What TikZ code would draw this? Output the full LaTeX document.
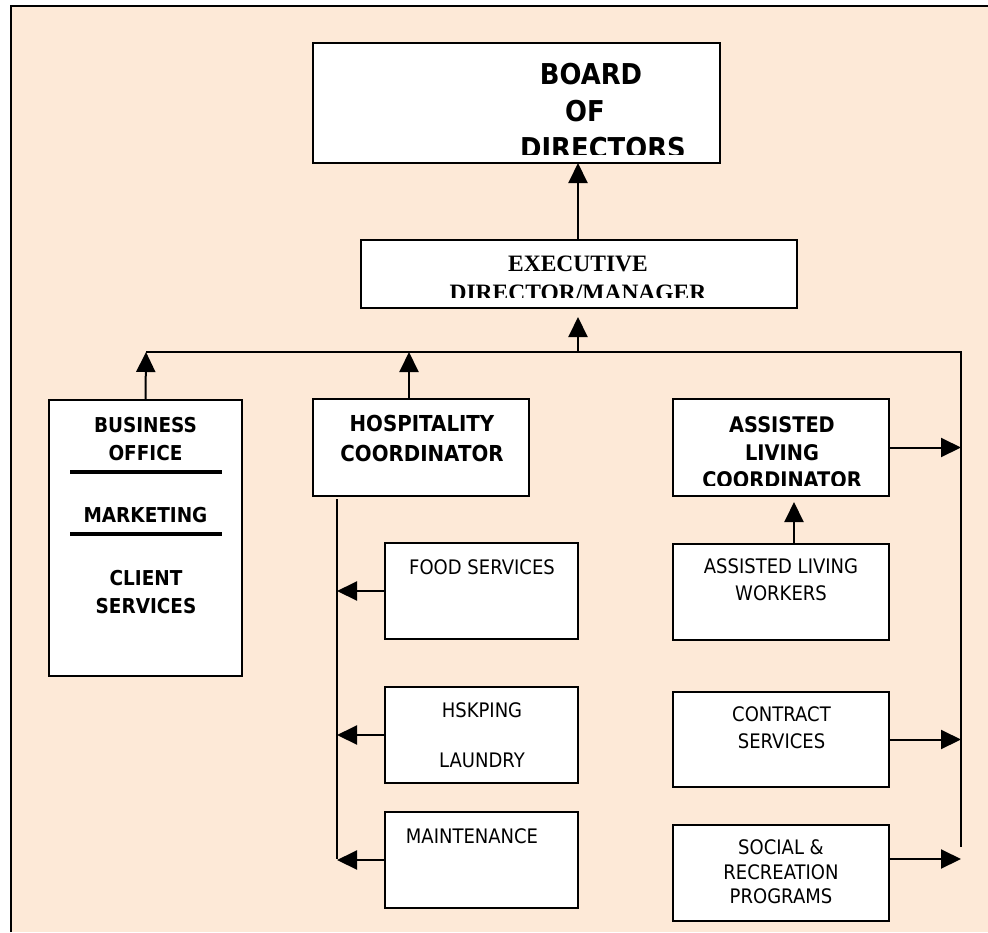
\documentclass[tikz,border=0pt]{standalone}
\usepackage{fontspec}
\setmainfont{DejaVu Sans}
\newfontfamily\tah[FakeStretch=0.9]{DejaVu Sans}
\newfontfamily\tms{Liberation Serif}
\usetikzlibrary{arrows.meta}
\definecolor{peach}{RGB}{253,233,215}
\begin{document}
\begin{tikzpicture}[x=1pt,y=-1pt,
  box/.style={draw=black, fill=white, line width=1.9pt, inner sep=0pt, outer sep=0pt},
  lbl/.style={inner sep=0pt, outer sep=0pt, anchor=north, align=center},
  arr/.style={line width=2pt, -{Triangle[length=20pt,width=19pt]}},
  conn/.style={line width=2pt}]
\useasboundingbox (0,0) rectangle (988,932);
\fill[white] (0,0) rectangle (988,932);
\fill[peach] (11,6) rectangle (988,932);
\draw[line width=2.6pt] (11,932) -- (11,6) -- (988,6);

% boxes
\node[box, minimum width=407, minimum height=120] (board) at (516.5,103) {};
\node[box, minimum width=436, minimum height=68] (exec) at (579,274) {};
\node[box, minimum width=193, minimum height=276] (boff) at (145.5,538) {};
\node[box, minimum width=216, minimum height=97] (hosp) at (421,447.5) {};
\node[box, minimum width=193, minimum height=96] (food) at (481.5,591) {};
\node[box, minimum width=193, minimum height=96] (hsk) at (481.5,735) {};
\node[box, minimum width=193, minimum height=96] (maint) at (481.5,860) {};
\node[box, minimum width=216, minimum height=97] (alc) at (781,447.5) {};
\node[box, minimum width=216, minimum height=96] (alw) at (781,592) {};
\node[box, minimum width=216, minimum height=95] (contract) at (781,739.5) {};
\node[box, minimum width=216, minimum height=96] (social) at (781,873) {};

% texts (clipped where the original clips them)
\begin{scope}
  \clip (313,43) rectangle (720,154);
  \node[lbl, font=\tah\bfseries\fontsize{28.7}{37}\selectfont] (boardtxt) at (591,63)
    {BOARD\\OF\kern12pt\\\kern24pt DIRECTORS};
\end{scope}
\begin{scope}
  \clip (361,240) rectangle (797,297);
  \node[lbl, font=\tms\bfseries\fontsize{23.5}{29}\selectfont] (exectxt) at (578,256)
    {EXECUTIVE\\DIRECTOR/MANAGER};
\end{scope}
\begin{scope}
  \clip (673,399) rectangle (889,485);
  \node[lbl, font=\tah\bfseries\fontsize{21.5}{27.5}\selectfont] (alctxt) at (782,417)
    {ASSISTED\\LIVING\\COORDINATOR};
\end{scope}
\node[lbl, font=\tah\bfseries\fontsize{20.5}{28}\selectfont] (bofftxt) at (145.5,417)
  {BUSINESS\\OFFICE};
\node[lbl, font=\tah\bfseries\fontsize{20.5}{28}\selectfont] (mkttxt) at (145.5,507)
  {MARKETING};
\node[lbl, font=\tah\bfseries\fontsize{20.5}{28}\selectfont] (clienttxt) at (146,570)
  {CLIENT\\SERVICES};
\draw[line width=4pt] (70,472) -- (222,472);
\draw[line width=4pt] (70,534) -- (222,534);
\node[lbl, font=\tah\bfseries\fontsize{22}{30}\selectfont] (hosptxt) at (422,415)
  {HOSPITALITY\\COORDINATOR};
\node[lbl, font=\tah\fontsize{20}{25}\selectfont] (foodtxt) at (482,560)
  {FOOD SERVICES};
\node[lbl, font=\tah\fontsize{20}{25}\selectfont] (hsktxt) at (482,703)
  {HSKPING\\[25pt]LAUNDRY};
\node[lbl, font=\tah\fontsize{20}{25}\selectfont] (mainttxt) at (472,829)
  {MAINTENANCE};
\node[lbl, font=\tah\fontsize{20}{27}\selectfont] (alwtxt) at (781,559)
  {ASSISTED LIVING\\WORKERS};
\node[lbl, font=\tah\fontsize{20}{27}\selectfont] (contracttxt) at (781.5,707)
  {CONTRACT\\SERVICES};
\node[lbl, font=\tah\fontsize{20}{24.5}\selectfont] (socialtxt) at (781,840)
  {SOCIAL \&\\RECREATION\\PROGRAMS};

% connector coordinates
\coordinate (cA) at (578,0);
\coordinate (busL) at (146,352);
\coordinate (busE) at (578,352);
\coordinate (busH) at (409,352);
\coordinate (busR) at (961,352);
\coordinate (rEnd) at (961,847);
\coordinate (hT) at (337,499);
\coordinate (hB) at (337,859);
\coordinate (cW) at (794,0);
\coordinate (sA) at (0,859);

% connectors
\draw[arr] (exec.north -| cA) -- (board.south -| cA);
\draw[conn] (busL) -- (busR) -- (rEnd);
\draw[arr, shorten >=9pt] (busE) -- (exec.south -| busE);
\draw[arr] (boff.north) -- (busL);
\draw[arr] (hosp.north -| busH) -- (busH);
\draw[conn] (hT) -- (hB);
\draw[arr] (food.west) -- (food.west -| hT);
\draw[arr] (hsk.west) -- (hsk.west -| hT);
\draw[arr] (maint.west) -- (maint.west -| hT);
\draw[arr] (alc.east) -- (alc.east -| busR);
\draw[arr, shorten >=6pt] (alw.north -| cW) -- (alc.south -| cW);
\draw[arr] (contract.east) -- (contract.east -| busR);
\draw[arr] (social.east |- sA) -- (busR |- sA);
\end{tikzpicture}
\end{document}
